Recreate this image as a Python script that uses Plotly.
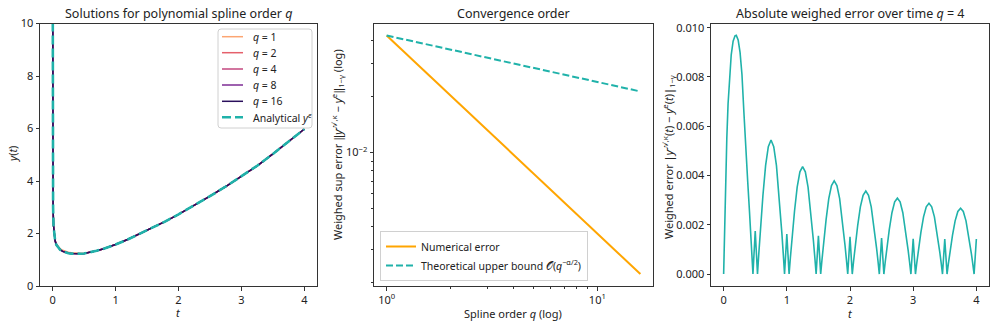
import plotly.graph_objects as go

# ---------------------------------------------------------------------------
# Data
# ---------------------------------------------------------------------------
t_sol = [0.0005, 0.002, 0.004, 0.008, 0.015, 0.025, 0.04, 0.06, 0.09, 0.12,
         0.16, 0.2, 0.25, 0.3, 0.35, 0.4, 0.45, 0.5, 0.6, 0.7, 0.8, 0.9, 1.0,
         1.2, 1.4, 1.6, 1.8, 2.0, 2.25, 2.5, 2.75, 3.0, 3.25, 3.5, 3.75, 4.0]
y_exact = [14.0, 6.5, 4.2, 3.0, 2.3, 1.95, 1.72, 1.57, 1.45, 1.38,
           1.32, 1.28, 1.25, 1.235, 1.225, 1.225, 1.23, 1.24, 1.28, 1.34, 1.41,
           1.49, 1.58, 1.78, 2.0, 2.23, 2.47, 2.73, 3.07, 3.42, 3.79, 4.17,
           4.58, 5.03, 5.50, 5.98]
y_q1 = [14.0, 6.5, 4.2, 3.0, 2.3, 1.95, 1.73, 1.59, 1.49, 1.42,
        1.36, 1.32, 1.29, 1.27, 1.255, 1.245, 1.24, 1.245, 1.28, 1.34, 1.41,
        1.49, 1.58, 1.78, 2.0, 2.23, 2.47, 2.73, 3.07, 3.42, 3.79, 4.17,
        4.58, 5.03, 5.50, 5.98]
y_q2 = [14.0, 6.5, 4.2, 3.0, 2.3, 1.95, 1.72, 1.58, 1.465, 1.395,
        1.335, 1.295, 1.265, 1.25, 1.24, 1.235, 1.235, 1.24, 1.28, 1.34, 1.41,
        1.49, 1.58, 1.78, 2.0, 2.23, 2.47, 2.73, 3.07, 3.42, 3.79, 4.17,
        4.58, 5.03, 5.50, 5.98]
q_orders = [1, 2, 4, 8, 16]
q_colors = ["#fca572", "#e5606b", "#c3477f", "#7e2d94", "#2a0f5c"]
y_by_q = [y_q1, y_q2, y_exact, y_exact, y_exact]

q_conv = [1, 2, 4, 8, 16]
err_num = [0.0426, 0.0204, 0.00976, 0.00467, 0.00222]
err_bound = [0.0426, 0.0358, 0.0301, 0.0253, 0.0213]

t_err = [
    0.000, 0.010, 0.020, 0.035, 0.050, 0.070, 0.090, 0.120, 0.150, 0.180,
    0.200, 0.230, 0.260, 0.290, 0.320, 0.350, 0.380, 0.410, 0.430, 0.450,
    0.464, 0.500,
    0.536, 0.557, 0.579, 0.600, 0.622, 0.664, 0.707, 0.750, 0.793, 0.836,
    0.878, 0.900, 0.921, 0.943, 0.964, 1.000,
    1.036, 1.057, 1.079, 1.100, 1.122, 1.164, 1.207, 1.250, 1.293, 1.336,
    1.378, 1.400, 1.421, 1.443, 1.464, 1.500,
    1.536, 1.557, 1.579, 1.600, 1.622, 1.664, 1.707, 1.750, 1.793, 1.836,
    1.878, 1.900, 1.921, 1.943, 1.964, 2.000,
    2.036, 2.057, 2.079, 2.100, 2.122, 2.164, 2.207, 2.250, 2.293, 2.336,
    2.378, 2.400, 2.421, 2.443, 2.464, 2.500,
    2.536, 2.557, 2.579, 2.600, 2.622, 2.664, 2.707, 2.750, 2.793, 2.836,
    2.878, 2.900, 2.921, 2.943, 2.964, 3.000,
    3.036, 3.057, 3.079, 3.100, 3.122, 3.164, 3.207, 3.250, 3.293, 3.336,
    3.378, 3.400, 3.421, 3.443, 3.464, 3.500,
    3.536, 3.557, 3.579, 3.600, 3.622, 3.664, 3.707, 3.750, 3.793, 3.836,
    3.878, 3.900, 3.921, 3.943, 3.964, 4.000,
]
err_milli = [
    0.0, 1.4, 2.6, 4.2, 5.5, 6.9, 7.9, 8.9, 9.45, 9.67,
    9.69, 9.5, 9.0, 8.1, 6.6, 5.0, 3.8, 2.5, 1.5, 0.7,
    0.0, 1.75,
    0.0, 0.85, 1.68, 2.47, 3.20, 4.40, 5.17, 5.44, 5.17, 4.40,
    3.20, 2.47, 1.68, 0.85, 0.0, 1.62,
    0.0, 0.68, 1.35, 1.98, 2.56, 3.53, 4.15, 4.36, 4.15, 3.53,
    2.56, 1.98, 1.35, 0.68, 0.0, 1.55,
    0.0, 0.59, 1.17, 1.72, 2.22, 3.06, 3.59, 3.78, 3.59, 3.06,
    2.22, 1.72, 1.17, 0.59, 0.0, 1.51,
    0.0, 0.53, 1.04, 1.53, 1.98, 2.73, 3.20, 3.37, 3.20, 2.73,
    1.98, 1.53, 1.04, 0.53, 0.0, 1.46,
    0.0, 0.48, 0.95, 1.40, 1.81, 2.49, 2.93, 3.08, 2.93, 2.49,
    1.81, 1.40, 0.95, 0.48, 0.0, 1.43,
    0.0, 0.45, 0.89, 1.30, 1.69, 2.32, 2.73, 2.87, 2.73, 2.32,
    1.69, 1.30, 0.89, 0.45, 0.0, 1.42,
    0.0, 0.42, 0.83, 1.21, 1.57, 2.16, 2.54, 2.67, 2.54, 2.16,
    1.57, 1.21, 0.83, 0.42, 0.0, 1.42,
]
err_t = [v / 1000 for v in err_milli]

# ---------------------------------------------------------------------------
TEAL = "#20b2aa"
ORANGE = "#ffa500"
INK = "#222222"
FONT = "Noto Sans, Open Sans, sans-serif"
W, H = 996, 327
SOL_DASH = "9px,4px"


def px(x):
    return x / W


def py(y):
    return 1 - y / H


def _axis(domain, anchor, **kw):
    d = dict(domain=domain, anchor=anchor, showgrid=False, zeroline=False,
             showline=True, linecolor="#333333", linewidth=1, mirror=True,
             ticks="outside", ticklen=3.5, tickwidth=0.8, tickcolor="#333333",
             tickfont=dict(size=11, color=INK), automargin=False)
    d.update(kw)
    return d


def _rounded_box(x0, y0, x1, y1, r=3):
    """Path for a rounded rectangle given in pixel coords (top-left origin)."""
    X = px
    Y = py
    return (f"M {X(x0 + r)},{Y(y0)} L {X(x1 - r)},{Y(y0)} "
            f"Q {X(x1)},{Y(y0)} {X(x1)},{Y(y0 + r)} L {X(x1)},{Y(y1 - r)} "
            f"Q {X(x1)},{Y(y1)} {X(x1 - r)},{Y(y1)} L {X(x0 + r)},{Y(y1)} "
            f"Q {X(x0)},{Y(y1)} {X(x0)},{Y(y1 - r)} L {X(x0)},{Y(y0 + r)} "
            f"Q {X(x0)},{Y(y0)} {X(x0 + r)},{Y(y0)} Z")


fig = go.Figure()

# ---- panel 1: solutions -----------------------------------------------------
for q, c, ys in zip(q_orders, q_colors, y_by_q):
    fig.add_scatter(x=t_sol, y=ys, mode="lines", name=f"q = {q}",
                    line=dict(color=c, width=1.5), xaxis="x", yaxis="y",
                    showlegend=False)
fig.add_scatter(x=t_sol, y=y_exact, mode="lines", name="Analytical y^e",
                line=dict(color=TEAL, width=2.6, dash=SOL_DASH),
                xaxis="x", yaxis="y", showlegend=False)

# ---- panel 2: convergence ---------------------------------------------------
fig.add_scatter(x=q_conv, y=err_num, mode="lines", name="Numerical error",
                line=dict(color=ORANGE, width=2), xaxis="x2", yaxis="y2")
fig.add_scatter(x=q_conv, y=err_bound, mode="lines",
                name="Theoretical upper bound 𝒪(<i>q</i><sup>−α/2</sup>)",
                line=dict(color=TEAL, width=2, dash="7px,3px"),
                xaxis="x2", yaxis="y2")

# ---- panel 3: error over time -----------------------------------------------
fig.add_scatter(x=t_err, y=err_t, mode="lines", showlegend=False,
                line=dict(color=TEAL, width=1.6), xaxis="x3", yaxis="y3")

ydom = [py(286), py(23.5)]
fig.update_layout(
    width=W, height=H, margin=dict(l=0, r=0, t=0, b=0),
    paper_bgcolor="white", plot_bgcolor="white",
    font=dict(family=FONT, size=11, color=INK),
    xaxis=_axis([px(40), px(317)], "y", range=[-0.2, 4.2], dtick=1),
    yaxis=_axis(ydom, "x", range=[0, 10], dtick=2),
    xaxis2=_axis([px(374), px(653)], "y2", type="log", range=[-0.06, 1.264],
                 tickvals=[1, 10],
                 ticktext=["10<sup>0</sup>", "10<sup>1</sup>"],
                 minor=dict(tickvals=[2, 3, 4, 5, 6, 7, 8, 9], ticks="outside",
                            ticklen=2, tickwidth=0.6, tickcolor="#333333")),
    yaxis2=_axis(ydom, "x2", type="log", range=[-2.718, -1.306],
                 tickvals=[0.01], ticktext=["10<sup>−2</sup>"],
                 minor=dict(tickvals=[0.002, 0.003, 0.004, 0.005, 0.006,
                                      0.007, 0.008, 0.009, 0.02, 0.03, 0.04],
                            ticks="outside", ticklen=2, tickwidth=0.6,
                            tickcolor="#333333")),
    xaxis3=_axis([px(711), px(989)], "y3", range=[-0.2, 4.2], dtick=1),
    yaxis3=_axis(ydom, "x3", range=[-0.000485, 0.01017], dtick=0.002,
                 tickformat=".3f"),
    legend=dict(x=px(380), y=py(281), xanchor="left", yanchor="bottom",
                bgcolor="rgba(255,255,255,0.85)", bordercolor="#d0d0d0",
                borderwidth=1, font=dict(size=10.5), itemwidth=30),
    showlegend=True,
)

# ---- panel 1 legend, drawn by hand for matplotlib-like compact spacing -------
fig.add_shape(type="path", xref="paper", yref="paper",
              path=_rounded_box(218, 29, 312, 128),
              fillcolor="rgba(255,255,255,0.85)",
              line=dict(color="#d0d0d0", width=1), layer="above")
legend_rows = [36.7, 52.7, 69.0, 85.0, 101.3, 117.3]
legend_labels = [f"<i>q</i> = {q}" for q in q_orders] + \
    ["Analytical <i>y<sup>e</sup></i>"]
legend_styles = [dict(color=c, width=1.5) for c in q_colors] + \
    [dict(color=TEAL, width=2.6, dash=SOL_DASH)]
for yrow, label, style in zip(legend_rows, legend_labels, legend_styles):
    fig.add_shape(type="line", xref="paper", yref="paper",
                  x0=px(222), x1=px(243), y0=py(yrow), y1=py(yrow),
                  line=style, layer="above")
    fig.add_annotation(x=px(251), y=py(yrow), xref="paper", yref="paper",
                       xanchor="left", yanchor="middle", text=label,
                       showarrow=False, font=dict(size=10.5))

titles = [
    (178, "Solutions for polynomial spline order <i>q</i>"),
    (513, "Convergence order"),
    (850, "Absolute weighed error over time <i>q</i> = 4"),
]
for x, text in titles:
    fig.add_annotation(x=px(x), y=py(13), xref="paper", yref="paper",
                       xanchor="center", yanchor="middle",
                       text=text, showarrow=False, font=dict(size=12.5))

axis_titles = [
    (178, 312, 0, "<i>t</i>"),
    (513, 313, 0, "Spline order <i>q</i> (log)"),
    (850, 313, 0, "<i>t</i>"),
    (12, 155, -90, "<i>y</i>(<i>t</i>)"),
    (338, 145, -90,
     "Weighed sup error ‖<i>y</i><sup>𝒜,κ</sup> − <i>y</i><sup>e</sup>‖"
     "<sub>1−γ</sub> (log)"),
    (669, 157, -90,
     "Weighed error |<i>y</i><sup>𝒜,κ</sup>(<i>t</i>) − "
     "<i>y</i><sup>e</sup>(<i>t</i>)|<sub>1−γ</sub>"),
]
for x, y, ang, text in axis_titles:
    fig.add_annotation(x=px(x), y=py(y), xref="paper", yref="paper",
                       xanchor="center", yanchor="middle",
                       text=text, showarrow=False, textangle=ang,
                       font=dict(size=11))

# the page's default 8px body margin would push the figure off-window
fig.write_html("out.html", config={"displayModeBar": False},
               post_script="document.body.style.margin='0';")
